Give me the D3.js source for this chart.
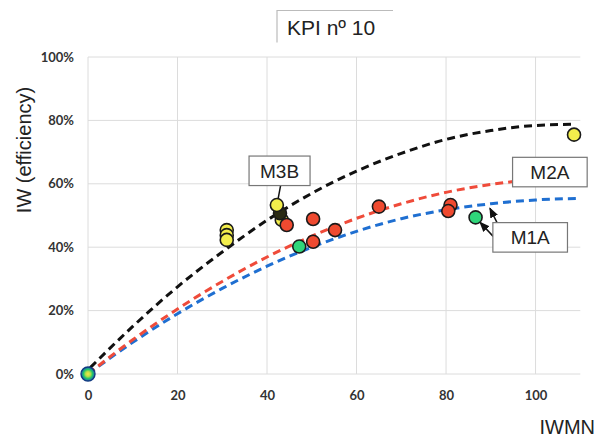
<!DOCTYPE html>
<html><head><meta charset="utf-8">
<script src="https://cdn.jsdelivr.net/npm/d3@7"></script>
<style>
html,body{margin:0;padding:0;background:#fff;}
svg{display:block;}
</style>
</head><body>
<svg id="chart" width="598" height="439"></svg>
<script>
// ---- data ----
const xTicks = [0, 20, 40, 60, 80, 100];
const yTicks = [0, 20, 40, 60, 80, 100];
const yTickLabels = ["0%", "20%", "40%", "60%", "80%", "100%"];

// first yellow point lies underneath the dark one
const yellowX = [43.3, 31, 31, 31, 42.2, 108.6];
const yellowY = [48.6, 45.4, 43.8, 42.3, 53.3, 75.5];
const darkX = [42.9];
const darkY = [50.7];
const redX = [44.4, 50.3, 50.3, 55.2, 65.0, 81.0, 80.5];
const redY = [47.0, 48.9, 41.7, 45.4, 52.8, 53.3, 51.4];
const greenX = [47.2, 86.6];
const greenY = [40.2, 49.4];
const originX = [0];
const originY = [0];

// trend lines
const blackCurveX = [0.5, 10, 20, 30, 40, 50, 60, 70, 80, 90, 100, 109];
const blackCurveY = [2, 15, 27.5, 38.5, 48.5, 57, 64, 69.6, 74, 76.8, 78.4, 78.8];
const redCurveX = [0, 10, 20, 30, 40, 50, 60, 70, 80, 90, 95];
const redCurveY = [0, 10.8, 20.5, 29.2, 36.9, 43.5, 49.1, 53.7, 57.3, 59.8, 60.7];
const blueCurveX = [0, 10, 20, 30, 40, 50, 60, 70, 80, 90, 100, 110];
const blueCurveY = [0, 10, 19, 27, 34, 40, 45, 49, 51.8, 53.7, 54.9, 55.4];

const labelText = ["M3B", "M2A", "M1A"];
const labelX = [42.8, 103.2, 98.8];
const labelY = [64.1, 63.7, 43.1];

// ---- drawing ----
const svg = d3.select("#chart");
const x = d3.scaleLinear().domain([0, 110]).range([88, 580.3]);
const y = d3.scaleLinear().domain([0, 100]).range([374, 57]);

// grid
svg.append("g").selectAll("line").data(yTicks).join("line")
  .attr("x1", x(0)).attr("x2", x(110)).attr("y1", d => y(d)).attr("y2", d => y(d))
  .attr("stroke", "#dcdcdc").attr("stroke-width", 1);
svg.append("g").selectAll("line").data(xTicks).join("line")
  .attr("x1", d => x(d)).attr("x2", d => x(d)).attr("y1", y(0)).attr("y2", y(100))
  .attr("stroke", "#dcdcdc").attr("stroke-width", 1);

// axes (labels only)
const yAxis = d3.axisLeft(y).tickValues(yTicks).tickFormat((d, i) => yTickLabels[i]).tickSize(0).tickPadding(14);
const gy = svg.append("g").attr("transform", `translate(${x(0)},0)`).call(yAxis);
gy.select(".domain").remove();
gy.selectAll("text").attr("font-family", "Lato, 'Open Sans', sans-serif").attr("font-weight", "bold")
  .attr("font-size", 13).attr("fill", "#333");

const xAxis = d3.axisBottom(x).tickValues(xTicks).tickSize(0).tickPadding(17);
const gx = svg.append("g").attr("transform", `translate(0,${y(0)})`).call(xAxis);
gx.select(".domain").remove();
gx.selectAll("text").attr("font-family", "Lato, 'Open Sans', sans-serif").attr("font-weight", "bold")
  .attr("font-size", 13).attr("fill", "#333");

// axis titles
svg.append("text").attr("transform", "translate(31,150) rotate(-90)")
  .attr("text-anchor", "middle").attr("font-family", "'Liberation Sans', Arial, sans-serif")
  .attr("font-size", 20).attr("fill", "#222").text("IW (efficiency)");
svg.append("text").attr("x", 595).attr("y", 434).attr("text-anchor", "end")
  .attr("font-family", "'Liberation Sans', Arial, sans-serif")
  .attr("font-size", 20).attr("fill", "#222").text("IWMN");

// title
svg.append("path").attr("d", "M277,42.5V10.5H393").attr("fill", "none").attr("stroke", "#bbb").attr("stroke-width", 1.2);
svg.append("text").attr("x", 287).attr("y", 35).attr("font-family", "'Liberation Sans', Arial, sans-serif")
  .attr("font-size", 21).attr("fill", "#222").text("KPI nº 10");

// trend curves
const line = d3.line().x(d => x(d[0])).y(d => y(d[1])).curve(d3.curveMonotoneX);
function curve(xs, ys, color) {
  svg.append("path").datum(xs.map((v, i) => [v, ys[i]]))
    .attr("d", line).attr("fill", "none").attr("stroke", color)
    .attr("stroke-width", 3).attr("stroke-dasharray", "8,5");
}
curve(blueCurveX, blueCurveY, "#1f6fd1");
curve(redCurveX, redCurveY, "#ef4b3a");
curve(blackCurveX, blackCurveY, "#111");

// leaders
const defs = svg.append("defs");
defs.append("marker").attr("id", "arr").attr("viewBox", "0 0 10 10").attr("refX", 9).attr("refY", 5)
  .attr("markerWidth", 7).attr("markerHeight", 7).attr("orient", "auto")
  .append("path").attr("d", "M0,1L10,5L0,9z").attr("fill", "#111");
const grad = defs.append("radialGradient").attr("id", "orig");
grad.append("stop").attr("offset", "0%").attr("stop-color", "#f3e54a");
grad.append("stop").attr("offset", "35%").attr("stop-color", "#b7df45");
grad.append("stop").attr("offset", "65%").attr("stop-color", "#22c46a");
grad.append("stop").attr("offset", "100%").attr("stop-color", "#1b63b8");

function leader(x1, y1, x2, y2, arrow) {
  const l = svg.append("line").attr("x1", x1).attr("y1", y1).attr("x2", x2).attr("y2", y2)
    .attr("stroke", "#111").attr("stroke-width", 1.5);
  if (arrow) l.attr("marker-end", "url(#arr)");
}
// M3B -> point
leader(x(labelX[0]) + 1, y(labelY[0]) + 15, x(yellowX[4]), y(yellowY[4]), false);
// M1A -> green point & blue line
{
  const gx0 = x(greenX[1]), gy0 = y(greenY[1]);
  const sx = x(labelX[2]) - 37, sy = y(labelY[2]) - 1;
  const dx = gx0 - sx, dy = gy0 - sy, len = Math.hypot(dx, dy);
  leader(sx, sy, gx0 - dx / len * 6.5, gy0 - dy / len * 6.5, true);
  leader(x(labelX[2]) - 33, y(labelY[2]) - 14.5, x(89.8), y(52.3), true);
}

// points
function pts(xs, ys, fill) {
  svg.append("g").selectAll("circle").data(xs.map((v, i) => [v, ys[i]])).join("circle")
    .attr("cx", d => x(d[0])).attr("cy", d => y(d[1])).attr("r", 6.5)
    .attr("fill", fill).attr("stroke", "#1a1a1a").attr("stroke-width", 1.6);
}
pts(yellowX.slice(0, 1), yellowY.slice(0, 1), "#f3ee4c");
pts(darkX, darkY, "#2a2a14");
pts(yellowX.slice(1), yellowY.slice(1), "#f3ee4c");
pts(redX, redY, "#ef4a30");
pts(greenX, greenY, "#2fd67a");
svg.append("g").selectAll("circle").data(originX.map((v, i) => [v, originY[i]])).join("circle")
  .attr("cx", d => x(d[0])).attr("cy", d => y(d[1])).attr("r", 7)
  .attr("fill", "url(#orig)").attr("stroke", "#103a80").attr("stroke-width", 1.4);

// label boxes
labelText.forEach((t, i) => {
  const w = i === 0 ? 61 : 74.6, h = 29.5;
  const cx = x(labelX[i]), cy = y(labelY[i]);
  svg.append("rect").attr("x", cx - w / 2).attr("y", cy - h / 2).attr("width", w).attr("height", h)
    .attr("fill", "#fff").attr("stroke", "#777").attr("stroke-width", 1.2);
  svg.append("text").attr("x", cx).attr("y", cy + 7).attr("text-anchor", "middle")
    .attr("font-family", "'Liberation Sans', Arial, sans-serif").attr("font-size", 19)
    .attr("fill", "#222").text(t);
});
</script>
</body></html>
